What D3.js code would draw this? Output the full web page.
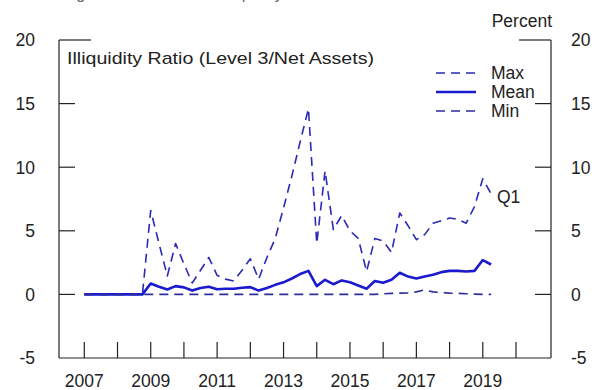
<!DOCTYPE html>
<html>
<head>
<meta charset="utf-8">
<script src="https://cdn.jsdelivr.net/npm/d3@7"></script>
<style>
  html, body { margin: 0; padding: 0; background: #fff; }
  svg { display: block; font-family: "Liberation Sans", Arial, Helvetica, sans-serif; }
</style>
</head>
<body>
<svg id="chart" width="594" height="390"></svg>
<script>
// Quarterly observations, 2007Q1 through 2019Q2
const quarters = d3.range(0, 50).map(i => `${2007 + Math.floor(i / 4)}Q${(i % 4) + 1}`);

const maxValues = [
  0, 0, 0, 0, 0, 0, 0, 0,
  6.6, 4.0, 1.45, 4.0, 2.4, 0.9, 1.9, 2.9,
  1.5, 1.2, 1.05, 1.9, 2.8, 1.2, 2.9, 4.4,
  6.8, 9.3, 12.0, 14.6, 4.0, 9.7, 5.1, 6.2,
  5.0, 4.4, 1.8, 4.4, 4.2, 3.3, 6.4, 5.4,
  4.3, 4.7, 5.6, 5.8, 6.0, 5.9, 5.6, 6.9,
  9.1, 7.9
];
const meanValues = [
  0, 0, 0, 0, 0, 0, 0, 0,
  0.86, 0.6, 0.38, 0.65, 0.55, 0.3, 0.5, 0.6,
  0.4, 0.45, 0.45, 0.52, 0.57, 0.3, 0.5, 0.75,
  0.95, 1.25, 1.6, 1.85, 0.65, 1.15, 0.8, 1.1,
  0.95, 0.7, 0.45, 1.05, 0.92, 1.15, 1.7, 1.4,
  1.25, 1.4, 1.55, 1.75, 1.85, 1.85, 1.8, 1.85,
  2.7, 2.35
];
const minValues = [
  0, 0, 0, 0, 0, 0, 0, 0,
  0, 0, 0, 0, 0, 0, 0, 0,
  0, 0, 0, 0, 0, 0, 0, 0,
  0, 0, 0, 0, 0, 0, 0, 0,
  0, 0, 0, 0, 0.05, 0.08, 0.1, 0.12,
  0.2, 0.35, 0.2, 0.15, 0.1, 0.08, 0.05, 0.02,
  0, 0
];

const yTicks = [-5, 0, 5, 10, 15, 20];
const yearTicks = d3.range(2007, 2021);
const yearLabels = ["2007", "2009", "2011", "2013", "2015", "2017", "2019"];
const legendNames = ["Max", "Mean", "Min"];

const svg = d3.select("#chart");
const frame = { left: 59, right: 551, top: 40, bottom: 358 };

// Time positions as fractional years
const toYear = q => +q.slice(0, 4) + (+q.slice(5) - 1) / 4;

const x = d3.scaleLinear().domain([2007, 2020]).range([84.3, 516]);
const y = d3.scaleLinear().domain([-5, 20]).range([frame.bottom, frame.top]);

const ink = "#222";
const fs = 17.5;

// Headline running off the top edge
svg.append("text")
  .attr("x", 63).attr("y", -1)
  .attr("font-size", 16).attr("fill", "#666")
  .text("Figure 4. Mutual Fund Liquidity Transformation");

// Frame: left, right and bottom rules plus short top stubs
const g = svg.append("g").attr("stroke", ink).attr("stroke-width", 1.2).attr("fill", "none");
g.append("line").attr("x1", frame.left).attr("x2", frame.left).attr("y1", frame.top).attr("y2", frame.bottom);
g.append("line").attr("x1", frame.right).attr("x2", frame.right).attr("y1", frame.top).attr("y2", frame.bottom);
g.append("line").attr("x1", frame.left).attr("x2", frame.right).attr("y1", frame.bottom).attr("y2", frame.bottom);
g.append("line").attr("x1", frame.left).attr("x2", frame.left + 32).attr("y1", frame.top).attr("y2", frame.top);
g.append("line").attr("x1", frame.right - 32).attr("x2", frame.right).attr("y1", frame.top).attr("y2", frame.top);

// Inward y ticks on both sides (the top value uses the stubs)
const inner = yTicks.filter(v => v > -5 && v < 20);
g.selectAll(".yl").data(inner).join("line")
  .attr("x1", frame.left).attr("x2", frame.left + 16)
  .attr("y1", d => y(d)).attr("y2", d => y(d));
g.selectAll(".yr").data(inner).join("line")
  .attr("x1", frame.right - 16).attr("x2", frame.right)
  .attr("y1", d => y(d)).attr("y2", d => y(d));

// Inward x ticks for every year
g.selectAll(".xt").data(yearTicks).join("line")
  .attr("x1", d => x(d)).attr("x2", d => x(d))
  .attr("y1", frame.bottom - 16).attr("y2", frame.bottom);

// Tick labels
svg.append("g").selectAll("text").data(yTicks).join("text")
  .attr("x", 35).attr("y", d => y(d)).attr("dy", "0.36em")
  .attr("text-anchor", "end").attr("font-size", fs).attr("fill", ink)
  .text(d => d);
svg.append("g").selectAll("text").data(yTicks).join("text")
  .attr("x", 571).attr("y", d => y(d)).attr("dy", "0.36em")
  .attr("text-anchor", "start").attr("font-size", fs).attr("fill", ink)
  .text(d => d);
svg.append("g").selectAll("text").data(yearLabels).join("text")
  .attr("x", d => x(+d)).attr("y", 387)
  .attr("text-anchor", "middle").attr("font-size", fs).attr("fill", ink)
  .text(d => d);

svg.append("text").attr("x", 552).attr("y", 27).attr("text-anchor", "end")
  .attr("font-size", fs).attr("fill", ink).text("Percent");
svg.append("text").attr("x", 67).attr("y", 64)
  .attr("font-size", 17).attr("fill", ink)
  .attr("textLength", 307).attr("lengthAdjust", "spacingAndGlyphs")
  .text("Illiquidity Ratio (Level 3/Net Assets)");

// Series
const series = [
  { name: "Max", values: maxValues, color: "#2a2ab8", width: 1.6, dash: "9,6" },
  { name: "Mean", values: meanValues, color: "#1a1ad0", width: 2.6, dash: null },
  { name: "Min", values: minValues, color: "#2e2e9a", width: 1.6, dash: "9,6" }
];

const line = d3.line()
  .x((d, i) => x(toYear(quarters[i])))
  .y(d => y(d));

svg.append("g").selectAll("path").data(series).join("path")
  .attr("d", s => line(s.values))
  .attr("fill", "none")
  .attr("stroke", s => s.color)
  .attr("stroke-width", s => s.width)
  .attr("stroke-dasharray", s => s.dash)
  .attr("stroke-linejoin", "round");

// Legend
const legendY = [73, 92, 111];
const lg = svg.append("g");
series.forEach((s, i) => {
  lg.append("line")
    .attr("x1", 436).attr("x2", 476)
    .attr("y1", legendY[i]).attr("y2", legendY[i])
    .attr("stroke", s.color).attr("stroke-width", s.width)
    .attr("stroke-dasharray", s.dash);
  lg.append("text")
    .attr("x", 491).attr("y", legendY[i]).attr("dy", "0.36em")
    .attr("font-size", fs).attr("fill", ink)
    .text(legendNames[i]);
});

svg.append("text").attr("x", 497).attr("y", 203)
  .attr("font-size", fs).attr("fill", ink).text("Q1");
</script>
</body>
</html>
